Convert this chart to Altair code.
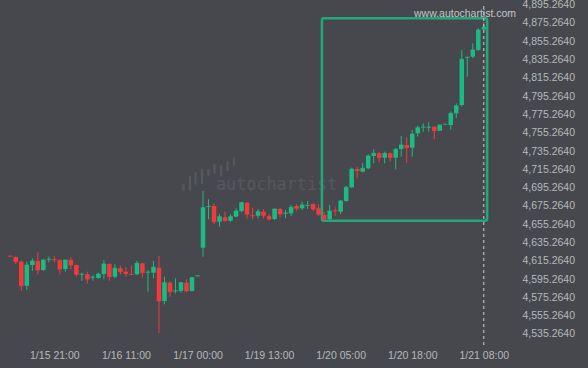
import altair as alt
import pandas as pd

# ---- data ----
opens = [4620.7, 4619.4, 4614.3, 4588.0, 4610.7, 4615.0, 4605.2, 4616.6, 4617.0, 4616.1,
         4606.3, 4616.1, 4610.7, 4600.2, 4600.5, 4597.0, 4596.5, 4600.8, 4611.8, 4597.9,
         4607.1, 4603.4, 4600.7, 4600.5, 4612.5, 4602.5, 4602.3, 4607.7, 4571.3, 4591.3,
         4582.0, 4582.3, 4591.3, 4582.3, 4598.4, 4629.6, 4674.1, 4675.2, 4658.0, 4662.8,
         4659.1, 4663.5, 4669.7, 4678.8, 4664.8, 4664.6, 4669.0, 4664.3, 4661.0, 4671.9,
         4667.0, 4667.2, 4675.2, 4672.7, 4675.3, 4677.4, 4672.7, 4665.3, 4661.0, 4670.3,
         4669.0, 4680.7, 4695.6, 4715.6, 4712.7, 4716.4, 4729.9, 4732.8, 4728.0, 4732.8,
         4728.0, 4737.5, 4741.9, 4738.9, 4754.7, 4761.0, 4761.0, 4761.9, 4757.5, 4764.3,
         4763.7, 4776.5, 4785.6, 4837.4, 4838.4, 4845.7, 4868.2]
closes = [4620.3, 4614.3, 4588.0, 4610.7, 4615.0, 4605.2, 4616.1, 4617.0, 4616.6, 4606.3,
          4616.1, 4610.7, 4600.5, 4600.6, 4595.4, 4597.4, 4600.8, 4611.8, 4597.9, 4607.1,
          4603.4, 4601.2, 4600.3, 4612.5, 4602.3, 4602.9, 4608.2, 4571.3, 4591.3, 4581.5,
          4582.5, 4591.3, 4582.3, 4596.8, 4598.9, 4673.3, 4674.6, 4658.0, 4663.5, 4659.1,
          4663.5, 4669.7, 4678.8, 4666.1, 4664.4, 4669.0, 4664.6, 4661.0, 4671.9, 4666.4,
          4667.4, 4673.8, 4672.7, 4676.3, 4675.7, 4671.9, 4666.1, 4661.0, 4669.7, 4669.8,
          4680.7, 4695.6, 4715.6, 4713.8, 4716.4, 4729.9, 4732.8, 4728.0, 4732.8, 4728.0,
          4737.2, 4741.9, 4738.9, 4753.9, 4760.8, 4761.4, 4761.4, 4757.5, 4763.7, 4764.7,
          4776.5, 4784.8, 4835.6, 4837.9, 4845.7, 4867.6, 4870.6]
highs = [4621.1, 4620.0, 4615.8, 4614.3, 4618.0, 4624.6, 4617.2, 4619.8, 4620.5, 4616.9,
         4616.5, 4619.8, 4611.2, 4602.3, 4603.4, 4599.7, 4602.3, 4616.1, 4612.5, 4611.4,
         4609.9, 4608.2, 4609.9, 4615.4, 4613.2, 4605.2, 4615.0, 4620.5, 4597.9, 4593.2,
         4596.1, 4592.4, 4595.0, 4597.9, 4598.9, 4691.6, 4682.5, 4678.1, 4666.1, 4669.0,
         4666.1, 4672.7, 4679.9, 4679.2, 4673.3, 4671.9, 4671.9, 4666.4, 4672.5, 4673.3,
         4670.8, 4676.3, 4677.0, 4679.9, 4680.7, 4677.9, 4677.4, 4668.6, 4676.3, 4673.8,
         4681.7, 4697.1, 4717.1, 4718.2, 4722.5, 4731.7, 4737.2, 4734.6, 4734.6, 4733.7,
         4738.3, 4751.7, 4750.3, 4758.3, 4763.0, 4765.6, 4766.7, 4762.4, 4764.3, 4764.7,
         4778.3, 4787.5, 4845.7, 4838.4, 4853.1, 4869.5, 4876.3]
lows = [4620.0, 4611.8, 4582.3, 4583.3, 4604.1, 4600.5, 4604.4, 4613.6, 4613.6, 4600.5,
        4603.4, 4606.0, 4597.9, 4593.2, 4590.7, 4593.5, 4595.7, 4595.0, 4593.5, 4596.1,
        4600.5, 4597.9, 4599.7, 4599.7, 4597.2, 4581.5, 4596.1, 4536.0, 4567.7, 4576.0,
        4579.7, 4580.4, 4580.8, 4581.5, 4598.4, 4619.8, 4660.6, 4655.5, 4652.6, 4658.0,
        4658.0, 4662.8, 4668.3, 4661.7, 4660.6, 4661.7, 4661.7, 4659.1, 4659.9, 4662.8,
        4661.7, 4664.3, 4670.0, 4670.8, 4671.9, 4669.7, 4664.3, 4659.9, 4659.9, 4664.3,
        4666.1, 4679.9, 4695.2, 4705.5, 4712.0, 4715.3, 4721.9, 4723.0, 4721.9, 4723.6,
        4715.3, 4729.1, 4722.5, 4729.1, 4751.0, 4756.4, 4756.4, 4748.1, 4757.2, 4764.3,
        4758.3, 4771.1, 4783.7, 4816.5, 4836.7, 4844.6, 4867.1]

x_tick_pos = [8, 21, 34, 47, 60, 73, 86]
x_tick_labels = ["1/15 21:00", "1/16 11:00", "1/17 00:00", "1/19 13:00",
                 "1/20 05:00", "1/20 18:00", "1/21 08:00"]
y_ticks = [4535.264, 4555.264, 4575.264, 4595.264, 4615.264, 4635.264, 4655.264,
           4675.264, 4695.264, 4715.264, 4735.264, 4755.264, 4775.264, 4795.264,
           4815.264, 4835.264, 4855.264, 4875.264, 4895.264]

# pattern box (start index, end index, top price, bottom price)
box_x = [56.6, 86.6]
box_y = [4880.4, 4659.1]

GREEN = "#1dbb84"
RED = "#f23a3c"
BG = "#46484d"
TXT = "#b6b8bc"
WM = "#55575c"

df = pd.DataFrame({"i": list(range(len(opens))), "open": opens, "close": closes,
                   "high": highs, "low": lows})
df["dir"] = ["up" if c >= o else "down" for o, c in zip(opens, closes)]

label_expr = "[" + ",".join(f"'{s}'" for s in x_tick_labels) + "][indexof([" + \
    ",".join(str(v) for v in x_tick_pos) + "], datum.value)]"

xscale = alt.Scale(domain=[-0.9617, 90.757], nice=False, zero=False)
yscale = alt.Scale(domain=[4523.22, 4900.40], nice=False, zero=False)

xaxis = alt.Axis(values=x_tick_pos, labelExpr=label_expr, title=None, ticks=False,
                 domain=False, grid=False, labelColor=TXT, labelFontSize=10.5,
                 labelFont="Liberation Sans", labelPadding=5, labelFlush=False,
                 labelOverlap=False, minExtent=23, maxExtent=23)
yaxis = alt.Axis(values=y_ticks, format=",.4f", orient="right", title=None, ticks=False,
                 domain=False, grid=False, labelColor=TXT, labelFontSize=10.5,
                 labelFont="Liberation Sans", labelPadding=7, labelFlush=False,
                 labelOverlap=False, labelSeparation=0, minExtent=73, maxExtent=73)

color = alt.Color("dir:N", scale=alt.Scale(domain=["up", "down"], range=[GREEN, RED]),
                  legend=None)

base = alt.Chart(df)

wicks = base.mark_rule(strokeWidth=1).encode(
    x=alt.X("i:Q", scale=xscale, axis=xaxis),
    y=alt.Y("low:Q", scale=yscale, axis=yaxis),
    y2="high:Q",
    color=color,
)
bodies = base.mark_bar(width=4.5).encode(
    x=alt.X("i:Q", scale=xscale, axis=xaxis),
    y=alt.Y("open:Q", scale=yscale, axis=yaxis),
    y2="close:Q", color=color,
)
closes_tick = base.mark_tick(size=4.5, thickness=1, orient="horizontal").encode(
    x=alt.X("i:Q", scale=xscale, axis=xaxis),
    y=alt.Y("close:Q", scale=yscale, axis=yaxis),
    color=color,
)

box_df = pd.DataFrame({"x1": [box_x[0]], "x2": [box_x[1]], "y1": [box_y[0]], "y2": [box_y[1]]})
box = alt.Chart(box_df).mark_rect(filled=False, stroke="#22a97b", strokeWidth=2.5,
                                  cornerRadius=2).encode(
    x=alt.X("x1:Q", scale=xscale, axis=xaxis), x2="x2:Q",
    y=alt.Y("y1:Q", scale=yscale, axis=yaxis), y2="y2:Q")

one = pd.DataFrame({"i": [len(opens) - 1]})
dash = alt.Chart(one).mark_rule(color="#cfd1d4", strokeDash=[3, 3], strokeWidth=1).encode(
    x=alt.X("i:Q", scale=xscale, axis=xaxis), y=alt.value(6), y2=alt.value(345))

# faint watermark: logo bars + word
logo_layers = []
for lx, ly1, ly2 in [(183.5, 185, 189.5), (190, 177, 189.5), (195.5, 173, 183.5),
                     (202, 170, 183), (208.5, 170, 175), (214.5, 165, 172.5),
                     (221, 166, 175), (227.5, 162.5, 170), (234, 158.5, 165)]:
    logo_layers.append(alt.Chart(one).mark_rule(color=WM, strokeWidth=2.4, strokeCap="round").encode(
        x=alt.value(lx), y=alt.value(ly1), y2=alt.value(ly2)))

watermark = alt.Chart(one).mark_text(text="autochartist", font="DejaVu Sans Mono",
                                     fontSize=16.8, color=WM,
                                     align="left", baseline="alphabetic").encode(
    x=alt.value(216), y=alt.value(189.5))

site = alt.Chart(one).mark_text(text="www.autochartist.com", font="Liberation Sans",
                                fontSize=10.5, color="#c4c6c9",
                                align="left", baseline="middle").encode(
    x=alt.value(414), y=alt.value(14))

chart = alt.layer(*logo_layers, watermark, box, wicks, bodies, closes_tick, dash, site).properties(
    width=515, height=345,
    autosize=alt.AutoSizeParams(type="none"),
    padding={"left": 0, "top": 0, "right": 73, "bottom": 23},
    background=BG,
).configure_view(stroke=None).configure_axis(labelOverlap=False, labelSeparation=0)

chart.save("out.html", embed_options={"renderer": "svg", "actions": False})
